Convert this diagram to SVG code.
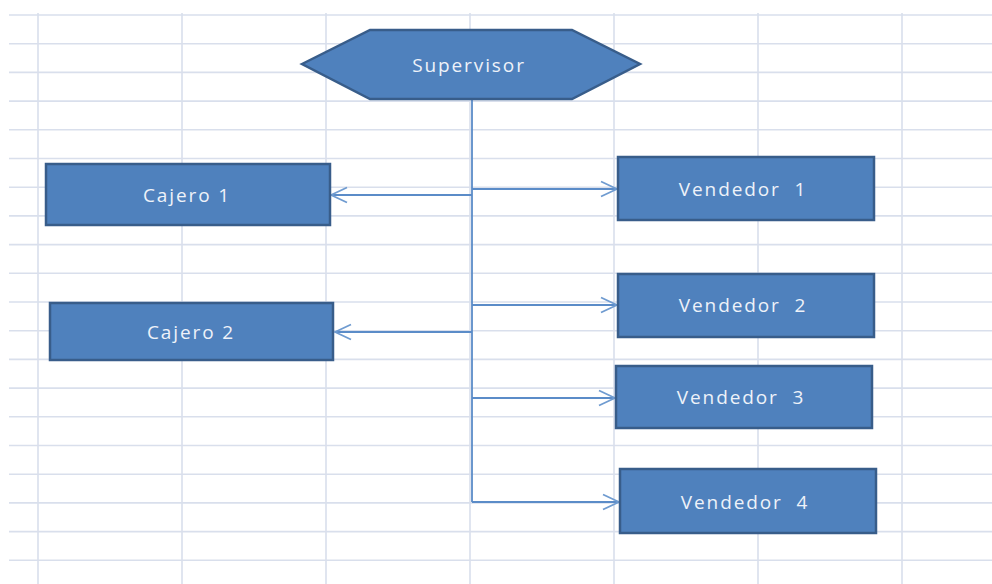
<svg xmlns="http://www.w3.org/2000/svg" width="992" height="584" viewBox="0 0 992 584">
<style>
.grid line{stroke:#d9dfec;stroke-width:1.6}
.box{fill:#4f81bd;stroke:#385d8a;stroke-width:2.5}
.lbl{font-family:"Open Sans","Liberation Sans",sans-serif;font-size:19px;fill:#eef2f9;text-anchor:middle;letter-spacing:1.9px}
.conn{stroke:#5b8cc8;stroke-width:1.8;fill:none}
</style>
<defs>
<marker id="arr" viewBox="0 0 20 20" refX="18" refY="10" markerWidth="20" markerHeight="20" markerUnits="userSpaceOnUse" orient="auto">
<path d="M2,2.5 L18,10 L2,17.5" fill="none" stroke="#6f9bd0" stroke-width="1.8"/>
</marker>
</defs>
<rect width="992" height="584" fill="#ffffff"/>
<g class="grid">
<line x1="38" y1="13" x2="38" y2="584"/>
<line x1="182" y1="13" x2="182" y2="584"/>
<line x1="326" y1="13" x2="326" y2="584"/>
<line x1="470" y1="13" x2="470" y2="584"/>
<line x1="614" y1="13" x2="614" y2="584"/>
<line x1="758" y1="13" x2="758" y2="584"/>
<line x1="902" y1="13" x2="902" y2="584"/>
<line x1="9" y1="15" x2="992" y2="15"/>
<line x1="9" y1="43.7" x2="992" y2="43.7"/>
<line x1="9" y1="72.4" x2="992" y2="72.4"/>
<line x1="9" y1="101.1" x2="992" y2="101.1"/>
<line x1="9" y1="129.8" x2="992" y2="129.8"/>
<line x1="9" y1="158.5" x2="992" y2="158.5"/>
<line x1="9" y1="187.2" x2="992" y2="187.2"/>
<line x1="9" y1="215.9" x2="992" y2="215.9"/>
<line x1="9" y1="244.6" x2="992" y2="244.6"/>
<line x1="9" y1="273.3" x2="992" y2="273.3"/>
<line x1="9" y1="302" x2="992" y2="302"/>
<line x1="9" y1="330.7" x2="992" y2="330.7"/>
<line x1="9" y1="359.4" x2="992" y2="359.4"/>
<line x1="9" y1="388.1" x2="992" y2="388.1"/>
<line x1="9" y1="416.8" x2="992" y2="416.8"/>
<line x1="9" y1="445.5" x2="992" y2="445.5"/>
<line x1="9" y1="474.2" x2="992" y2="474.2"/>
<line x1="9" y1="502.9" x2="992" y2="502.9"/>
<line x1="9" y1="531.6" x2="992" y2="531.6"/>
<line x1="9" y1="560.3" x2="992" y2="560.3"/>
</g>
<g id="connectors">
<line class="conn" x1="472" y1="99" x2="472" y2="502"/>
<line class="conn" x1="472" y1="195" x2="331" y2="195" marker-end="url(#arr)"/>
<line class="conn" x1="472" y1="189" x2="617" y2="189" marker-end="url(#arr)"/>
<line class="conn" x1="472" y1="305" x2="617" y2="305" marker-end="url(#arr)"/>
<line class="conn" x1="472" y1="332" x2="335" y2="332" marker-end="url(#arr)"/>
<line class="conn" x1="472" y1="398" x2="615" y2="398" marker-end="url(#arr)"/>
<line class="conn" x1="472" y1="502" x2="619" y2="502" marker-end="url(#arr)"/>
</g>
<g id="supervisor">
<polygon class="box" points="302,64 370,30 572,30 640,64 572,99 370,99"/>
<text class="lbl" x="469" y="72">Supervisor</text>
</g>
<g id="cajero1">
<rect class="box" x="46" y="164" width="284" height="61"/>
<text class="lbl" x="187" y="202">Cajero 1</text>
</g>
<g id="cajero2">
<rect class="box" x="50" y="303" width="283" height="57"/>
<text class="lbl" x="191" y="339">Cajero 2</text>
</g>
<g id="vendedor1">
<rect class="box" x="618" y="157" width="256" height="63"/>
<text class="lbl" x="743" y="196" xml:space="preserve">Vendedor  1</text>
</g>
<g id="vendedor2">
<rect class="box" x="618" y="274" width="256" height="63"/>
<text class="lbl" x="743" y="312" xml:space="preserve">Vendedor  2</text>
</g>
<g id="vendedor3">
<rect class="box" x="616" y="366" width="256" height="62"/>
<text class="lbl" x="741" y="404" xml:space="preserve">Vendedor  3</text>
</g>
<g id="vendedor4">
<rect class="box" x="620" y="469" width="256" height="64"/>
<text class="lbl" x="745" y="509" xml:space="preserve">Vendedor  4</text>
</g>
</svg>
